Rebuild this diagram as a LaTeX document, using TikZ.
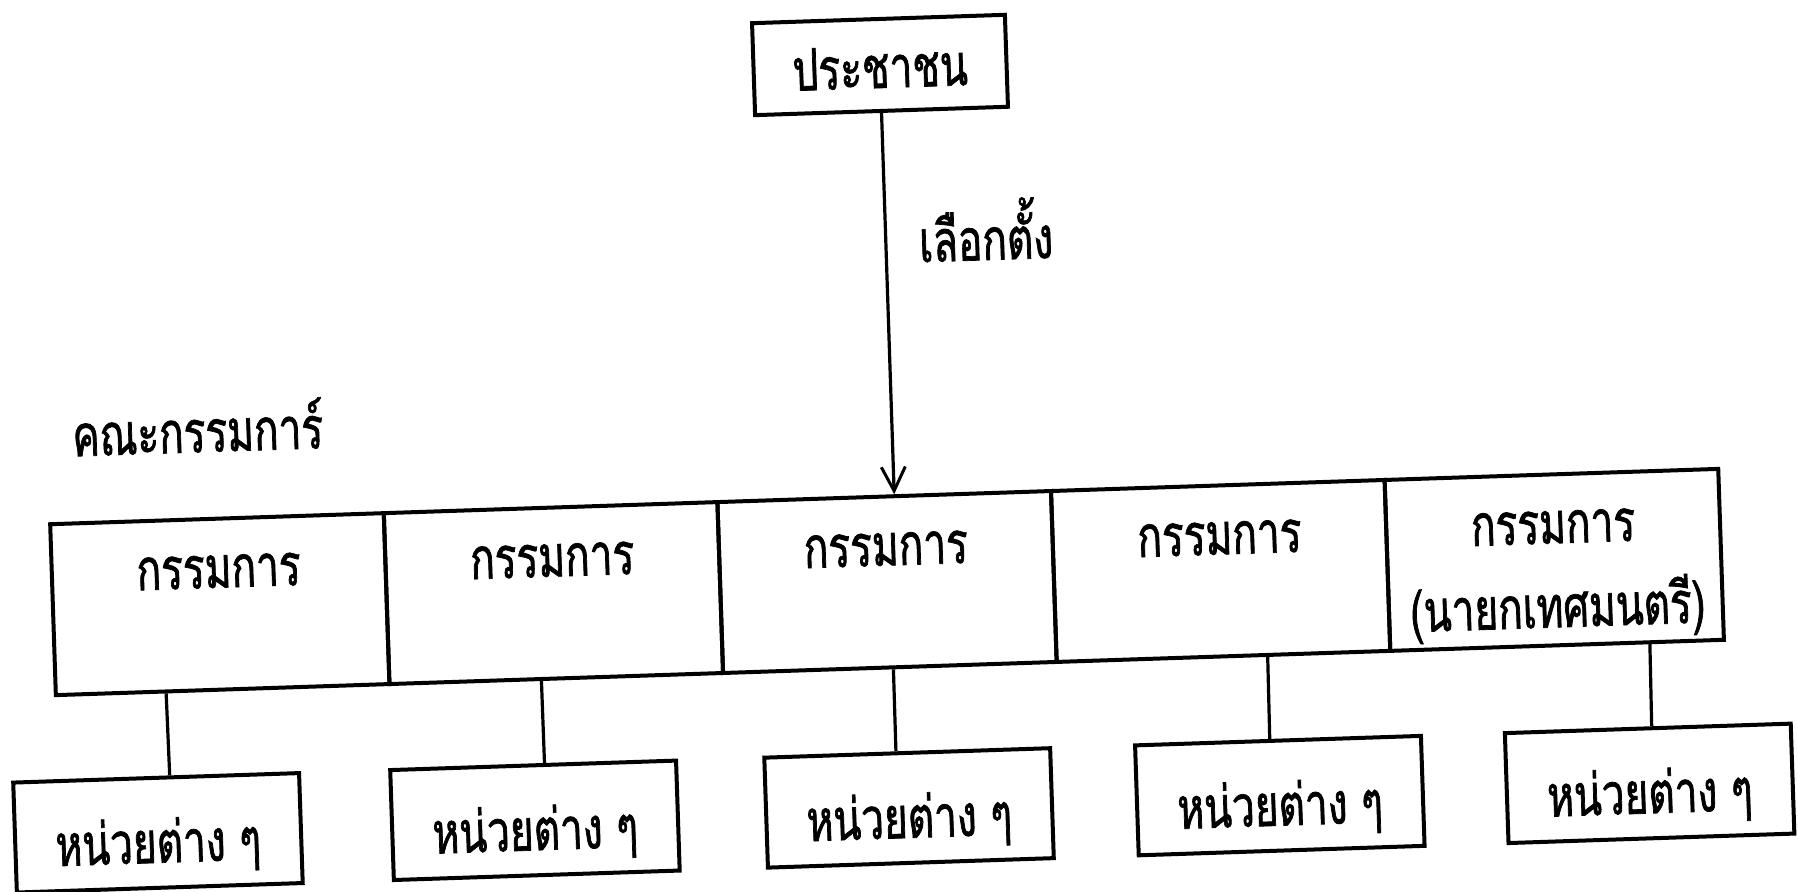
\documentclass[tikz,border=0pt]{standalone}
\usepackage{fontspec}
\newfontfamily\thai[Script=Thai,FakeStretch=0.70,FakeBold=1.2]{Loma}
\usetikzlibrary{arrows.meta,calc}
\begin{document}
\begin{tikzpicture}[x=0.5pt,y=-0.5pt,
  lab/.style={font=\thai\fontsize{29}{34}\selectfont, inner sep=0pt, anchor=base},
  boxline/.style={draw, line width=2pt},
  topbox/.style={boxline, minimum width=126.5pt, minimum height=46pt, inner sep=0pt},
  cellbox/.style={boxline, minimum width=166.9pt, minimum height=85.5pt, inner sep=0pt},
  unitbox/.style={boxline, minimum width=143pt, minimum height=55pt, inner sep=0pt},
  conn/.style={line width=1.6pt},
  arr/.style={conn, -{Straight Barb[length=12pt,width=12pt,line width=1.5pt]}}
]
\fill[white] (0,0) rectangle (1798,891);
\useasboundingbox (0,0) rectangle (1798,891);
\begin{scope}[rotate around={1.9:(900,445)}, transform shape]
  % top box
  \node[topbox] (top) at (892.6,64.5) {};
  \node[lab] (topl) at (892.6,87.5) {ประชาชน};
  % committee cells
  \node[cellbox] (c1) at (214.9,581.5) {};
  \node[cellbox] (c2) at (548.7,581.5) {};
  \node[cellbox] (c3) at (882.5,581.5) {};
  \node[cellbox] (c4) at (1216.3,581.5) {};
  \node[cellbox] (c5) at (1550.1,581.5) {};
  \node[lab] (c1l) at (214.9,565) {กรรมการ};
  \node[lab] (c2l) at (548.7,565) {กรรมการ};
  \node[lab] (c3l) at (882.5,565) {กรรมการ};
  \node[lab] (c4l) at (1216.3,565) {กรรมการ};
  \node[lab] (c5l) at (1550.1,565) {กรรมการ};
  \node[lab] (c5m) at (1552,649) {(นายกเทศมนตรี)};
  % labels
  \node[lab] (elect) at (992.8,263) {เลือกตั้ง};
  \node[lab] (board) at (198.6,429) {คณะกรรมการ์};
  % unit boxes
  \node[unitbox] (b1) at (145.5,808) {};
  \node[unitbox] (b2) at (522.7,808) {};
  \node[unitbox] (b3) at (897,808) {};
  \node[unitbox] (b4) at (1268,808) {};
  \node[unitbox] (b5) at (1638,808) {};
  \node[lab] (b1l) at (145.5,838) {หน่วยต่าง ๆ};
  \node[lab] (b2l) at (522.7,838) {หน่วยต่าง ๆ};
  \node[lab] (b3l) at (897,838) {หน่วยต่าง ๆ};
  \node[lab] (b4l) at (1268,838) {หน่วยต่าง ๆ};
  \node[lab] (b5l) at (1638,838) {หน่วยต่าง ๆ};
  % connectors
  \draw[arr] (top.south) -- ($(c3.north west)!0.53!(c3.north east)$);
  \draw[conn] ($(c1.south west)!0.3325!(c1.south east)$) -- ($(b1.north west)!0.547!(b1.north east)$);
  \draw[conn] ($(c2.south west)!0.4560!(c2.south east)$) -- ($(b2.north west)!0.5395!(b2.north east)$);
  \draw[conn] ($(c3.south west)!0.5105!(c3.south east)$) -- ($(b3.north west)!0.4615!(b3.north east)$);
  \draw[conn] ($(c4.south west)!0.6310!(c4.south east)$) -- ($(b4.north west)!0.4720!(b4.north east)$);
  \draw[conn] ($(c5.south west)!0.7750!(c5.south east)$) -- ($(b5.north west)!0.5140!(b5.north east)$);
\end{scope}
\end{tikzpicture}
\end{document}
